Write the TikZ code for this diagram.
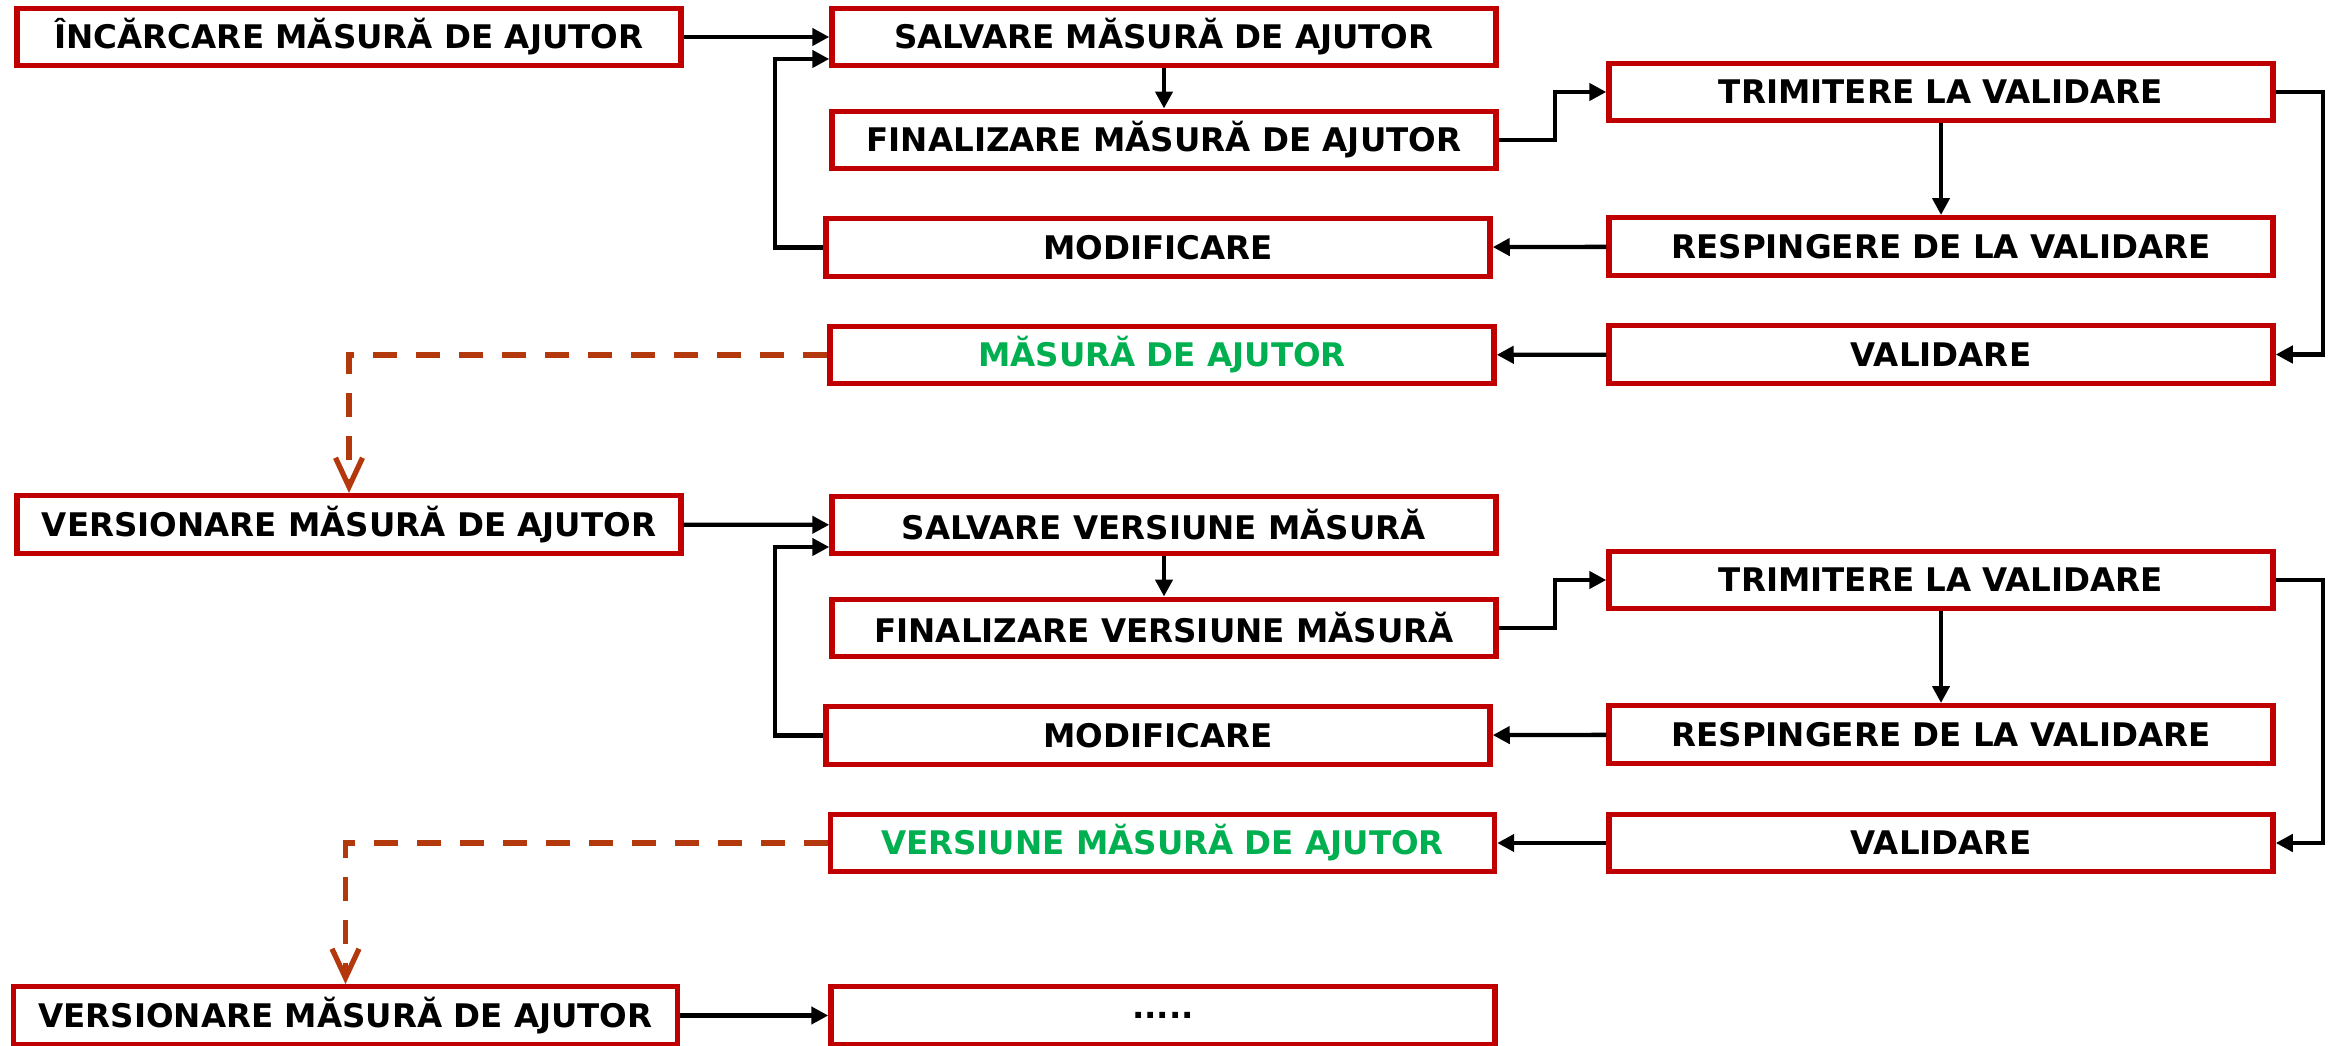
\documentclass[tikz,border=0pt]{standalone}
\usepackage{fontspec}
\setmainfont{DejaVu Sans}
\usetikzlibrary{arrows.meta}
\definecolor{boxred}{HTML}{C00000}
\definecolor{okgreen}{HTML}{00B050}
\definecolor{versbrown}{HTML}{B3380C}
\begin{document}
\begin{tikzpicture}
	\tikzset{
		every node/.style={font=\fontsize{9.25pt}{11pt}\selectfont\bfseries},
		stepbox/.style={draw=boxred, line width=1.55pt, fill=white, minimum width=6.64cm, minimum height=0.575cm, inner sep=0pt},
		flow/.style={draw=black, line width=1.25pt, -{Triangle[length=0.17cm,width=0.17cm]}},
		newver/.style={draw=versbrown, line width=1.5pt, dash pattern=on 0.24cm off 0.19cm, -{Straight Barb[length=0.29cm,width=0.27cm]}}
	}
	\useasboundingbox (0,0) rectangle (23.33,-10.46);
	% masura de ajutor
	\node[stepbox] (inc) at (3.49,-0.37) {ÎNCĂRCARE MĂSURĂ DE AJUTOR};
	\node[stepbox] (salv) at (11.64,-0.37) {SALVARE MĂSURĂ DE AJUTOR};
	\node[stepbox] (fin) at (11.64,-1.40) {FINALIZARE MĂSURĂ DE AJUTOR};
	\node[stepbox] (modif) at (11.58,-2.475) {MODIFICARE};
	\node[stepbox, text=okgreen] (mas) at (11.62,-3.55) {MĂSURĂ DE AJUTOR};
	\node[stepbox] (trim) at (19.41,-0.92) {TRIMITERE LA VALIDARE};
	\node[stepbox] (resp) at (19.41,-2.465) {RESPINGERE DE LA VALIDARE};
	\node[stepbox] (valid) at (19.41,-3.545) {VALIDARE};
	\draw[flow] (inc) -- (salv);
	\draw[flow] (salv) -- (fin);
	\draw[flow] (fin.east) -- ++(0.56,0) |- (trim.west);
	\draw[flow] (trim) -- (resp);
	\draw[flow] (resp) -- (modif);
	\draw[flow] (modif.west) -- ++(-0.48,0) |- ([yshift=-0.22cm]salv.west);
	\draw[flow] (trim.east) -- ++(0.47,0) |- (valid.east);
	\draw[flow] (valid) -- (mas);
	% versiune masura
	\node[stepbox] (vers) at (3.49,-5.245) {VERSIONARE MĂSURĂ DE AJUTOR};
	\node[stepbox] (vsalv) at (11.64,-5.25) {SALVARE VERSIUNE MĂSURĂ};
	\node[stepbox] (vfin) at (11.64,-6.28) {FINALIZARE VERSIUNE MĂSURĂ};
	\node[stepbox] (vmodif) at (11.58,-7.355) {MODIFICARE};
	\node[stepbox, text=okgreen] (vmas) at (11.625,-8.43) {VERSIUNE MĂSURĂ DE AJUTOR};
	\node[stepbox] (vtrim) at (19.41,-5.80) {TRIMITERE LA VALIDARE};
	\node[stepbox] (vresp) at (19.41,-7.345) {RESPINGERE DE LA VALIDARE};
	\node[stepbox] (vvalid) at (19.41,-8.43) {VALIDARE};
	\draw[newver] (mas.west) -| (vers.north);
	\draw[flow] (vers) -- (vsalv);
	\draw[flow] (vsalv) -- (vfin);
	\draw[flow] (vfin.east) -- ++(0.56,0) |- (vtrim.west);
	\draw[flow] (vtrim) -- (vresp);
	\draw[flow] (vresp) -- (vmodif);
	\draw[flow] (vmodif.west) -- ++(-0.48,0) |- ([yshift=-0.22cm]vsalv.west);
	\draw[flow] (vtrim.east) -- ++(0.47,0) |- (vvalid.east);
	\draw[flow] (vvalid) -- (vmas);
	% urmatoarea versiune
	\node[stepbox] (vers2) at (3.455,-10.155) {VERSIONARE MĂSURĂ DE AJUTOR};
	\node[stepbox] (next) at (11.63,-10.155) {.....};
	\draw[newver] (vmas.west) -| (vers2.north);
	\draw[flow] (vers2) -- (next);
\end{tikzpicture}
\end{document}
